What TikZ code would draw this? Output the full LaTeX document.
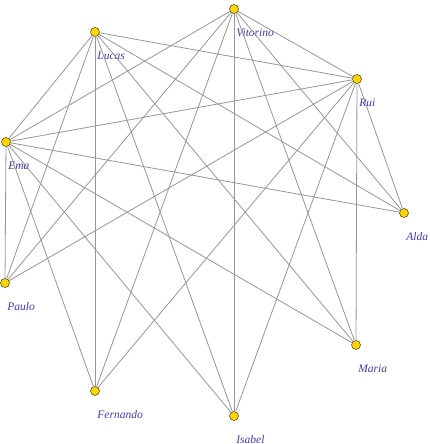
\documentclass[tikz,border=0pt]{standalone}
\usepackage{fontspec}
\setmainfont{Liberation Serif}
\usepackage{xcolor}
\usepackage{tikz}
\usetikzlibrary{positioning}
\definecolor{dotyellow}{RGB}{255,214,0}
\definecolor{dotrim}{RGB}{90,80,30}
\definecolor{labblue}{RGB}{64,58,168}
\definecolor{linegray}{RGB}{150,150,150}

\begin{document}
\begin{tikzpicture}[
    x=1pt, y=-1pt,
    dot/.style={circle, draw=dotrim, fill=dotyellow, line width=0.6pt, minimum size=9pt, inner sep=0pt},
    lab/.style={text=labblue, font=\fontsize{11.5}{13}\selectfont\itshape, inner sep=0pt, text height=8pt, text depth=2.5pt},
    link/.style={draw=linegray, line width=0.8pt}
]
\useasboundingbox (0,0) rectangle (430,444);

% people
\node[dot] (Vitorino) at (234,9) {};
\node[dot] (Lucas) at (95,32) {};
\node[dot] (Rui) at (357,79) {};
\node[dot] (Ema) at (6,142) {};
\node[dot] (Alda) at (404,213) {};
\node[dot] (Paulo) at (5,283) {};
\node[dot] (Maria) at (356,345) {};
\node[dot] (Fernando) at (95,391) {};
\node[dot] (Isabel) at (234,416) {};

% names
\node[lab, below right=15.8pt and -1.2pt of Vitorino] (tVitorino) {Vitorino};
\node[lab, below right=15.8pt and -1.2pt of Lucas] (tLucas) {Lucas};
\node[lab, below right=15.8pt and -1.2pt of Rui] (tRui) {Rui};
\node[lab, below right=15.8pt and -1.2pt of Ema] (tEma) {Ema};
\node[lab, below right=15.8pt and -1.2pt of Alda] (tAlda) {Alda};
\node[lab, below right=15.8pt and -1.2pt of Paulo] (tPaulo) {Paulo};
\node[lab, below right=15.8pt and -1.2pt of Maria] (tMaria) {Maria};
\node[lab, below right=15.8pt and -1.2pt of Fernando] (tFernando) {Fernando};
\node[lab, below right=15.8pt and -1.2pt of Isabel] (tIsabel) {Isabel};

% friendships
\draw[link] (Lucas) edge (Rui) edge (Ema) edge (Alda) edge (Maria) edge (Isabel) edge (Fernando) edge (Paulo);
\draw[link] (Vitorino) edge (Rui) edge (Ema) edge (Alda) edge (Maria) edge (Isabel) edge (Fernando) edge (Paulo);
\draw[link] (Rui) edge (Ema) edge (Alda) edge (Maria) edge (Isabel) edge (Fernando) edge (Paulo);
\draw[link] (Ema) edge (Alda) edge (Maria) edge (Isabel) edge (Fernando) edge (Paulo);
\end{tikzpicture}
\end{document}
